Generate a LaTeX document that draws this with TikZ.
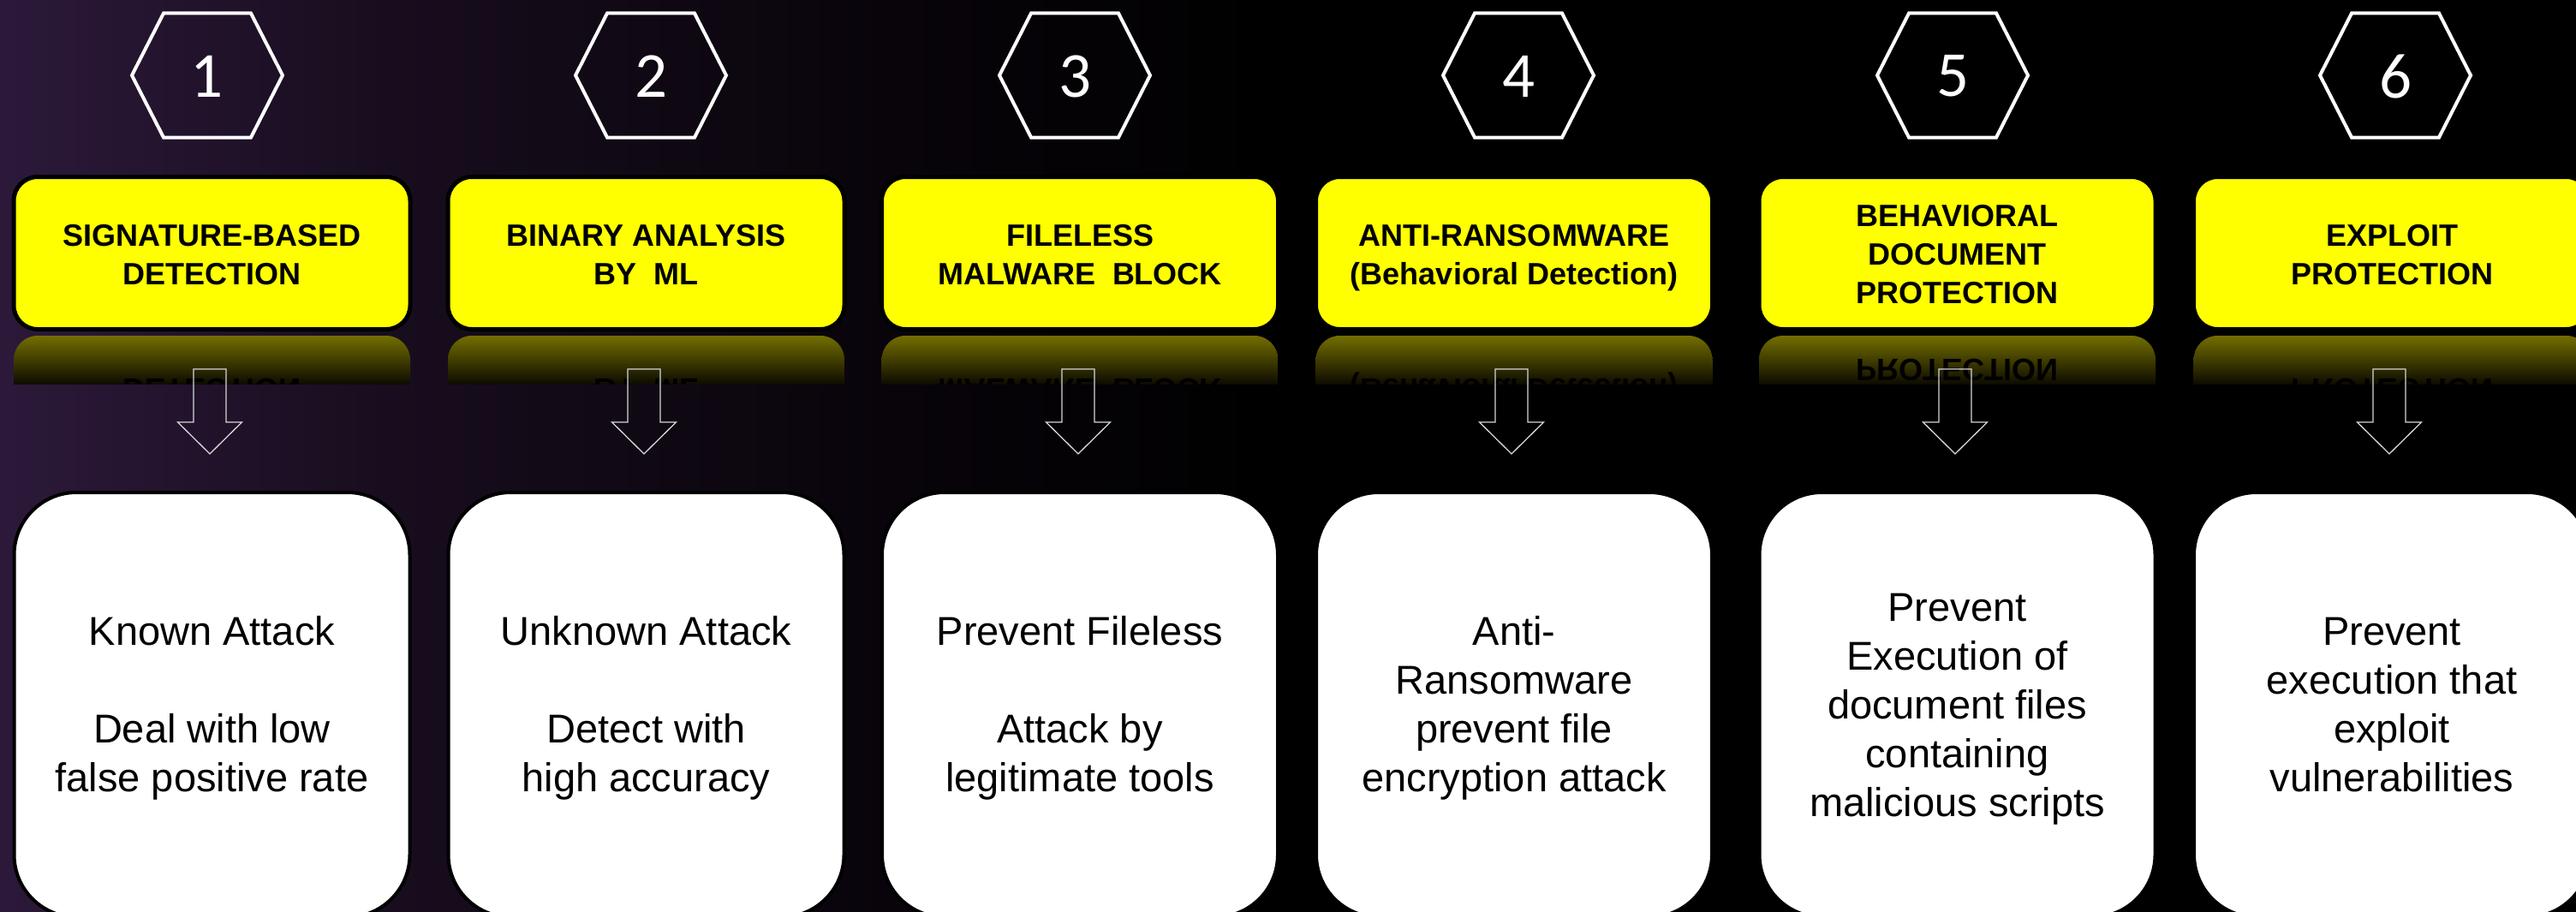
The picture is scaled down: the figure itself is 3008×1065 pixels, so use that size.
\documentclass[tikz,border=0pt]{standalone}
\usepackage{fontspec}
\usepackage{graphicx}
\setmainfont{Liberation Sans}
\newfontfamily\numfont{Carlito}
\usetikzlibrary{calc}
\definecolor{ylw}{RGB}{255,255,0}
\definecolor{bgA}{RGB}{44,25,58}
\definecolor{bgB}{RGB}{24,13,30}
\definecolor{bgC}{RGB}{8,4,10}
\definecolor{reflA}{RGB}{115,110,0}
\definecolor{reflB}{RGB}{14,12,0}
\definecolor{arrowc}{RGB}{215,215,215}

\tikzset{
  hexnum/.style={font=\numfont\fontsize{75}{80}\selectfont, text=white, inner sep=0pt},
  headbox/.style={draw=black, line width=5pt, fill=ylw, rounded corners=28pt,
                  minimum width=463pt, minimum height=178pt, inner sep=0pt},
  headtext/.style={font=\bfseries\fontsize{36}{45}\selectfont, text=black, inner sep=0pt},
  bodybox/.style={draw=black, line width=4pt, fill=white, rounded corners=73pt,
                  minimum width=462pt, minimum height=496pt, inner sep=0pt},
  bodytext/.style={font=\fontsize{47}{57}\selectfont, text=black, inner sep=0pt},
  hexline/.style={draw=white, line width=4pt, line join=miter},
  blockarrow/.style={draw=arrowc, line width=1.3pt},
}

\newcommand\hexagonat[2]{%
  \draw[hexline] (#1) ++(-88,0) -- ++(37,-72.5) -- ++(102,0) -- ++(37,72.5)
     -- ++(-37,72.5) -- ++(-102,0) -- cycle;
  \node[hexnum] (#1n) at ($(#1)+(0,1)$) {#2};
}
\newcommand\downblock[1]{%
  \draw[blockarrow] (#1) ++(-19,0) -- ++(38,0) -- ++(0,62) -- ++(18.5,0)
     -- ++(-37.5,37) -- ++(-37.5,-37) -- ++(18.5,0) -- cycle;
}
% #1 name, #2 centre x, #3 text (tabular body)
\newcommand\reflectionat[3]{%
  \begin{scope}
    \clip[rounded corners=28pt] ({#2-231.5},392) rectangle ({#2+231.5},520);
    \clip ({#2-231.5},392) rectangle ({#2+231.5},448);
    \shade[top color=reflA, bottom color=reflB] ({#2-231.5},392) rectangle ({#2+231.5},448);
    \node[headtext] (#1) at (#2,{774-300.5}) {\scalebox{1}[-1]{\begin{tabular}{@{}c@{}}#3\end{tabular}}};
  \end{scope}
}

\begin{document}
\begin{tikzpicture}[x=1pt,y=-1pt]
\useasboundingbox (0,0) rectangle (3008,1065);
\clip (0,0) rectangle (3008,1065);
% background
\fill[black] (0,0) rectangle (3008,1065);
\shade[left color=bgA, right color=bgB] (0,0) rectangle (450,1065);
\shade[left color=bgB, right color=bgC] (450,0) rectangle (1050,1065);
\shade[left color=bgC, right color=black] (1050,0) rectangle (1500,1065);

% hexagon centres
\coordinate (x1) at (242,88);
\coordinate (x2) at (760,88);
\coordinate (x3) at (1255,88);
\coordinate (x4) at (1773,88);
\coordinate (x5) at (2280,88);
\coordinate (x6) at (2797,88);
\hexagonat{x1}{1}
\hexagonat{x2}{2}
\hexagonat{x3}{3}
\hexagonat{x4}{4}
\hexagonat{x5}{5}
\hexagonat{x6}{6}

% header boxes
\node[headbox] (h1) at (247.5,295.5) {};
\node[headbox] (h2) at (754.5,295.5) {};
\node[headbox] (h3) at (1261,295.5) {};
\node[headbox] (h4) at (1768,295.5) {};
\node[headbox] (h5) at (2285.5,295.5) {};
\node[headbox] (h6) at (2793,295.5) {};

\node[headtext] (t1) at ($(h1.center)+(0,5)$) {\begin{tabular}{@{}c@{}}SIGNATURE-BASED\\DETECTION\end{tabular}};
\node[headtext] (t2) at ($(h2.center)+(0,5)$) {\begin{tabular}{@{}c@{}}BINARY ANALYSIS\\BY\ \ ML\end{tabular}};
\node[headtext] (t3) at ($(h3.center)+(0,5)$) {\begin{tabular}{@{}c@{}}FILELESS\\MALWARE\ \ BLOCK\end{tabular}};
\node[headtext] (t4) at ($(h4.center)+(0,5)$) {\begin{tabular}{@{}c@{}}ANTI-RANSOMWARE\\(Behavioral Detection)\end{tabular}};
\node[headtext] (t5) at ($(h5.center)+(0,5)$) {\begin{tabular}{@{}c@{}}BEHAVIORAL\\DOCUMENT\\PROTECTION\end{tabular}};
\node[headtext] (t6) at ($(h6.center)+(0,5)$) {\begin{tabular}{@{}c@{}}EXPLOIT\\PROTECTION\end{tabular}};

% reflections
\reflectionat{r1}{247.5}{SIGNATURE-BASED\\DETECTION}
\reflectionat{r2}{754.5}{BINARY ANALYSIS\\BY\ \ ML}
\reflectionat{r3}{1261}{FILELESS\\MALWARE\ \ BLOCK}
\reflectionat{r4}{1768}{ANTI-RANSOMWARE\\(Behavioral Detection)}
\reflectionat{r5}{2285.5}{BEHAVIORAL\\DOCUMENT\\PROTECTION}
\reflectionat{r6}{2793}{EXPLOIT\\PROTECTION}

% block arrows
\coordinate (a1) at (245,431);
\coordinate (a2) at (752,431);
\coordinate (a3) at (1259,431);
\coordinate (a4) at (1765,431);
\coordinate (a5) at (2283,431);
\coordinate (a6) at (2790,431);
\downblock{a1}
\downblock{a2}
\downblock{a3}
\downblock{a4}
\downblock{a5}
\downblock{a6}

% body boxes
\node[bodybox] (b1) at (247.5,823) {};
\node[bodybox] (b2) at (754.5,823) {};
\node[bodybox] (b3) at (1261,823) {};
\node[bodybox] (b4) at (1768,823) {};
\node[bodybox] (b5) at (2285.5,823) {};
\node[bodybox] (b6) at (2793,823) {};

\node[bodytext] (s1) at ($(b1.center)+(0,5)$) {\begin{tabular}{@{}c@{}}Known Attack\\ \\Deal with low\\false positive rate\end{tabular}};
\node[bodytext] (s2) at ($(b2.center)+(0,5)$) {\begin{tabular}{@{}c@{}}Unknown Attack\\ \\Detect with\\high accuracy\end{tabular}};
\node[bodytext] (s3) at ($(b3.center)+(0,5)$) {\begin{tabular}{@{}c@{}}Prevent Fileless\\ \\Attack by\\legitimate tools\end{tabular}};
\node[bodytext] (s4) at ($(b4.center)+(0,5)$) {\begin{tabular}{@{}c@{}}Anti-\\Ransomware\\prevent file\\encryption attack\end{tabular}};
\node[bodytext] (s5) at ($(b5.center)+(0,5)$) {\begin{tabular}{@{}c@{}}Prevent\\Execution of\\document files\\containing\\malicious scripts\end{tabular}};
\node[bodytext] (s6) at ($(b6.center)+(0,5)$) {\begin{tabular}{@{}c@{}}Prevent\\execution that\\exploit\\vulnerabilities\end{tabular}};
\end{tikzpicture}
\end{document}
